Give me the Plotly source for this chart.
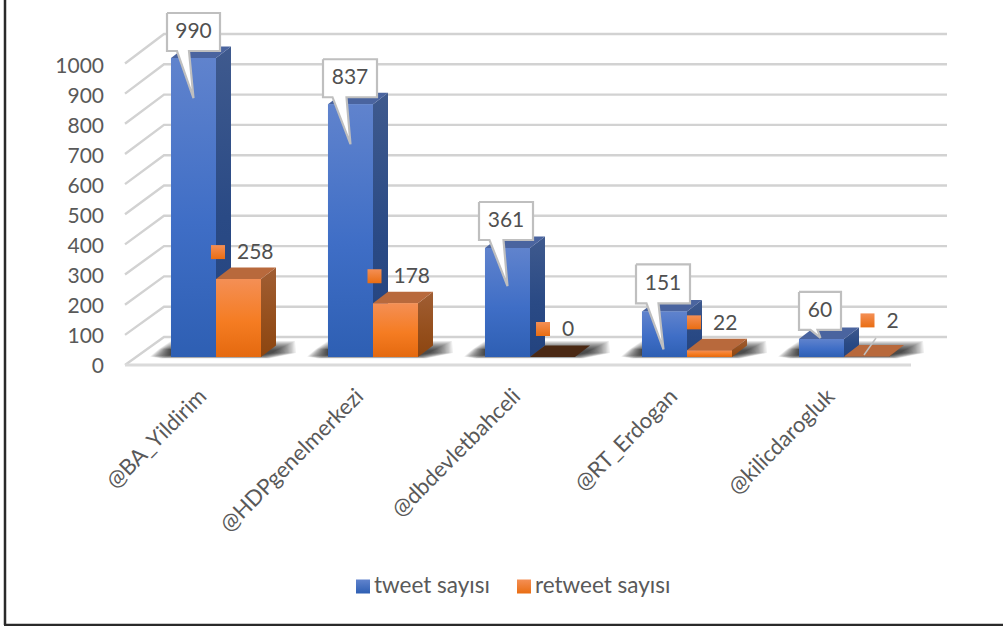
import plotly.graph_objects as go

categories = ["@BA_Yildirim", "@HDPgenelmerkezi", "@dbdevletbahceli", "@RT_Erdogan", "@kilicdarogluk"]
tweet_values = [990, 837, 361, 151, 60]
retweet_values = [258, 178, 0, 22, 2]
value_ticks = [0, 100, 200, 300, 400, 500, 600, 700, 800, 900, 1000]
series_names = ["tweet sayısı", "retweet sayısı"]

W, H = 1003, 626
FONT = "Lato"
PX_PER_VALUE = 0.302
BASE_PY = 357
GROUP0_PX, GROUP_STEP = 216, 157
BAR_PX = 45
DEPTH_X, DEPTH_Y = 15, 11.5


def X(px):
    return (px - GROUP0_PX) / GROUP_STEP


def Y(py):
    return (BASE_PY - py) / PX_PER_VALUE


def gx(i):
    return GROUP0_PX + GROUP_STEP * i


def vy(v):
    return BASE_PY - PX_PER_VALUE * v


fig = go.Figure()


def poly(pts, color=None, grad=None, line=None, lw=0):
    kw = dict(
        x=[X(p[0]) for p in pts] + [X(pts[0][0])],
        y=[Y(p[1]) for p in pts] + [Y(pts[0][1])],
        mode="lines",
        fill="toself",
        showlegend=False,
        hoverinfo="skip",
        line=dict(width=lw, color=line or "rgba(0,0,0,0)"),
    )
    if grad:
        kw["fillgradient"] = dict(type="vertical", colorscale=[[0, grad[2]], [0.45, grad[1]], [1, grad[0]]])
    else:
        kw["fillcolor"] = color
    fig.add_trace(go.Scatter(**kw))


BLUE_FRONT = ("#6083CD", "#3F6EC6", "#2E5FB3")
BLUE_SIDE = ("#3F5A8E", "#2A4A85", "#23437F")
ORANGE_FRONT = ("#F48F55", "#F57C22", "#E4690F")
ORANGE_SIDE = ("#A05E34", "#96501E", "#8C4510")

# real bars, overlaid below by the gradient faces
fig.add_trace(go.Bar(x=list(range(5)), y=tweet_values, name=series_names[0], marker_color="#3F6EC5", hoverinfo="x+y"))
fig.add_trace(go.Bar(x=list(range(5)), y=retweet_values, name=series_names[1], marker_color="#F57C22", hoverinfo="x+y"))

# gridlines: left wall + back wall
gx_list, gy_list = [], []
for v in value_ticks:
    gx_list += [X(125), X(164), X(947), None]
    gy_list += [Y(365 - 0.3015 * v), Y(337 - 0.303 * v), Y(337 - 0.303 * v), None]
fig.add_trace(go.Scatter(x=gx_list, y=gy_list, mode="lines", line=dict(color="#D2D2D2", width=2.4),
                         showlegend=False, hoverinfo="skip"))
fig.add_trace(go.Scatter(x=[X(125), X(911)], y=[Y(365), Y(365)], mode="lines", line=dict(color="#DADADA", width=3),
                         showlegend=False, hoverinfo="skip"))

# floor shadows: stacked translucent layers give the soft edge
for i in range(5):
    L, R = gx(i) - BAR_PX, gx(i) + BAR_PX
    for k in range(1, 19):
        t = k / 18
        bottom = BASE_PY - 2 + 3.5 * t
        top_y = BASE_PY - 6 - 10 * t
        poly([(L - 21 * t, bottom - 2 * t), (L - 10 * t, bottom), (R + 8 * t, bottom),
              (R + 10 + 25 * t, BASE_PY - 4), (R + 14 + 20 * t, top_y),
              (L + 10 - 10 * t, top_y), (L - 12 * t, BASE_PY - 8)], color="rgba(0,0,0,0.062)")

# 3D bars
for i in range(5):
    c = gx(i)
    # tweet bar
    top = vy(tweet_values[i])
    l, r = c - BAR_PX, c
    poly([(r, top), (r + DEPTH_X, top - DEPTH_Y), (r + DEPTH_X, BASE_PY - DEPTH_Y), (r, BASE_PY)], grad=BLUE_SIDE)
    poly([(l, top), (r, top), (r + DEPTH_X, top - DEPTH_Y), (l + DEPTH_X, top - DEPTH_Y)], color="#4A649F")
    poly([(l, BASE_PY), (r, BASE_PY), (r, top), (l, top)], grad=BLUE_FRONT)
    # retweet bar
    v = retweet_values[i]
    top = vy(v)
    l, r = c, c + BAR_PX
    if v > 0:
        poly([(r, top), (r + DEPTH_X, top - DEPTH_Y), (r + DEPTH_X, BASE_PY - DEPTH_Y), (r, BASE_PY)], grad=ORANGE_SIDE)
    poly([(l, top), (r, top), (r + DEPTH_X, top - DEPTH_Y), (l + DEPTH_X, top - DEPTH_Y)],
         color="#B8693C" if v > 0 else "#4A2813")
    if v > 0:
        poly([(l, BASE_PY), (r, BASE_PY), (r, top), (l, top)], grad=ORANGE_FRONT)

# leader line of the smallest retweet label
fig.add_trace(go.Scatter(x=[X(876), X(864)], y=[Y(338), Y(355)], mode="lines", line=dict(color="#BFBFBF", width=1.5),
                         showlegend=False, hoverinfo="skip"))

# tweet callouts: box left/right, top/bottom, pointer base left/right, tip (offsets from bar centre / bar top)
CALLOUTS = [
    (-26.5, 26.5, -45, -7, -16.5, -4.5, 0, 40),
    (-27.5, 26.5, -45, -7, -18, -4, 0, 40),
    (-28.5, 25.5, -46, -8, -18, -4, 0, 38),
    (-28.5, 25.5, -47, -8, -18, -6, -1, 38),
    (-22.5, 19.5, -47, -9, -11, -4, -1, -1),
]
for i, off in enumerate(CALLOUTS):
    cx = gx(i) - BAR_PX / 2
    ft = vy(tweet_values[i])
    a, b, t, u, p, q, tx, ty = off
    poly([(cx + a, ft + t), (cx + b, ft + t), (cx + b, ft + u), (cx + q, ft + u), (cx + tx, ft + ty),
          (cx + p, ft + u), (cx + a, ft + u)], color="#FFFFFF", line="#BFBFBF", lw=2.2)
    fig.add_trace(go.Scatter(x=[X(cx + (a + b) / 2)], y=[Y(ft + (t + u) / 2 + 1)], mode="text",
                             text=[str(tweet_values[i])], textposition="middle center",
                             textfont=dict(family=FONT, size=21, color="#505050"),
                             showlegend=False, hoverinfo="skip"))

# retweet labels with legend keys (offset of key from bar centre and bar top)
KEY_OFFSETS = [(-20.5, -27), (-21, -27), (-9.5, -28), (-15.5, -28), (1, -36)]
ORANGE_GRAD = dict(type="vertical", color="#E96D12")
BLUE_GRAD = dict(type="vertical", color="#2E5FB3")
for i, (dx, dy) in enumerate(KEY_OFFSETS):
    cx = gx(i) + BAR_PX / 2 + dx
    cy = vy(retweet_values[i]) + dy
    fig.add_trace(go.Scatter(x=[X(cx)], y=[Y(cy)], mode="markers",
                             marker=dict(symbol="square", size=14, color="#F48F55", gradient=ORANGE_GRAD),
                             showlegend=False, hoverinfo="skip"))
    fig.add_trace(go.Scatter(x=[X(cx + 19)], y=[Y(cy + 2)], mode="text", text=[str(retweet_values[i])],
                             textposition="middle right", textfont=dict(family=FONT, size=21, color="#505050"),
                             showlegend=False, hoverinfo="skip"))

# legend
for name, kx, col, g in [(series_names[0], 363, "#6083CD", BLUE_GRAD), (series_names[1], 524, "#F48F55", ORANGE_GRAD)]:
    fig.add_trace(go.Scatter(x=[X(kx)], y=[Y(586.5)], mode="markers",
                             marker=dict(symbol="square", size=14, color=col, gradient=g),
                             showlegend=False, hoverinfo="skip"))
    fig.add_trace(go.Scatter(x=[X(kx + 11)], y=[Y(587)], mode="text", text=[name], textposition="middle right",
                             textfont=dict(family=FONT, size=22.5, color="#595959"),
                             showlegend=False, hoverinfo="skip"))

fig.update_layout(
    width=W, height=H,
    margin=dict(l=0, r=0, t=0, b=0),
    paper_bgcolor="white", plot_bgcolor="white",
    showlegend=False,
    barmode="group", bargap=1 - 2 * BAR_PX / GROUP_STEP, bargroupgap=0,
    xaxis=dict(range=[X(0), X(W)], domain=[0, 1], tickmode="array", tickvals=[i - 16 / GROUP_STEP for i in range(5)],
               ticktext=categories,
               tickangle=-45, showgrid=False, zeroline=False, showline=False, ticks="", anchor="free",
               position=1 - 378 / H, tickfont=dict(family=FONT, size=22, color="#595959"), automargin=False),
    yaxis=dict(range=[Y(H), Y(0)], domain=[0, 1], visible=False, fixedrange=True),
    yaxis2=dict(range=[(366 - H) / 0.3, 366 / 0.3], domain=[0, 1], overlaying="y", anchor="free", position=104 / W,
                tickmode="array", tickvals=value_ticks, showgrid=False, zeroline=False, showline=False, ticks="",
                tickfont=dict(family=FONT, size=21, color="#595959"), automargin=False),
    shapes=[
        dict(type="line", xref="paper", yref="paper", x0=5 / W, x1=5 / W, y0=1 - 625 / H, y1=1,
             line=dict(color="#2A2A2A", width=2.5), layer="above"),
        dict(type="line", xref="paper", yref="paper", x0=4 / W, x1=1, y0=1 - 625 / H, y1=1 - 625 / H,
             line=dict(color="#2A2A2A", width=2.5), layer="above"),
    ],
)
# invisible trace so the value axis is drawn
fig.add_trace(go.Scatter(x=[0], y=[0], yaxis="y2", mode="markers", marker=dict(opacity=0), showlegend=False,
                         hoverinfo="skip"))

fig.write_html("out.html", config={"displayModeBar": False},
               post_script="document.body.style.margin='0';document.body.style.overflow='hidden';")
